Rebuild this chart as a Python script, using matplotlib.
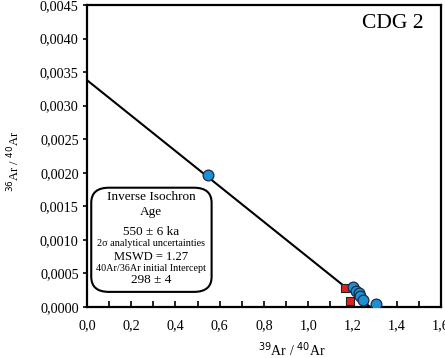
import matplotlib
matplotlib.use('Agg')
import matplotlib.pyplot as plt
from matplotlib.patches import FancyBboxPatch
from matplotlib.ticker import FuncFormatter, MultipleLocator

# datos
blue_x = [0.547, 1.204, 1.217, 1.230, 1.235, 1.249, 1.305]
blue_y = [0.00197, 0.00030, 0.00024, 0.00021, 0.00017, 0.00010, 0.00004]
red_x = [1.167, 1.190]
red_y = [0.000283, 0.00009]
line_x = [0.0, 1.28]
line_y = [0.00338, 0.0]

box_lines = ['Inverse Isochron', 'Age', '550 \u00b1 6 ka', '2\u03c3 analytical uncertainties',
             'MSWD = 1.27', '40Ar/36Ar initial Intercept', '298 \u00b1 4']

plt.rcParams['font.family'] = ['Liberation Serif', 'DejaVu Serif']
fig = plt.figure(figsize=(4.45, 3.58), dpi=100)
ax = fig.add_axes([0.1955, 0.1425, 0.7955, 0.8435])

ax.plot(line_x, line_y, color='black', lw=1.5, zorder=2)
ax.scatter(red_x, red_y, marker='s', s=36, color='#e3211c', edgecolor='#222222', lw=0.8, zorder=3)
ax.scatter(blue_x, blue_y, marker='o', s=60, color='#1d8fd6', edgecolor='#1a2a40', lw=0.9, zorder=4)

ax.set_xlim(0, 1.6)
ax.set_ylim(0, 0.0045)
ax.xaxis.set_major_locator(MultipleLocator(0.2))
ax.xaxis.set_minor_locator(MultipleLocator(0.1))
ax.yaxis.set_major_locator(MultipleLocator(0.0005))
ax.xaxis.set_major_formatter(FuncFormatter(lambda v, p: ('%.1f' % v).replace('.', ',')))
ax.yaxis.set_major_formatter(FuncFormatter(lambda v, p: ('%.4f' % v).replace('.', ',')))
ax.tick_params(axis='x', which='both', direction='in', length=4, width=1.2, labelsize=10.2, pad=9)
ax.tick_params(axis='y', direction='out', length=3, width=1.2, labelsize=10.2, pad=3)
for s in ax.spines.values():
    s.set_linewidth(1.6)

ax.set_xlabel(r'$^{39}$Ar / $^{40}$Ar', fontsize=10)
ax.xaxis.set_label_coords(0.58, -0.11)
ax.set_ylabel(r'$^{36}$Ar / $^{40}$Ar', fontsize=9)
ax.yaxis.set_label_coords(-0.184, 0.483)

ax.text(0.864, 0.94, 'CDG 2', transform=ax.transAxes, ha='center', va='center', fontsize=15.5)

box = FancyBboxPatch((0.012, 0.05), 0.34, 0.345, transform=ax.transAxes,
                     boxstyle='round,pad=0,rounding_size=0.05', fc='white', ec='black', lw=1.5, zorder=5)
ax.add_patch(box)
ys = [0.364, 0.315, 0.248, 0.209, 0.166, 0.127, 0.089]
sizes = [9.5, 9.5, 9.5, 7.3, 9, 7.3, 9.5]
for t, yy, fs in zip(box_lines, ys, sizes):
    ax.text(0.181, yy, t, transform=ax.transAxes, ha='center', va='center', fontsize=fs, zorder=6)

fig.savefig('out.png', dpi=100)
